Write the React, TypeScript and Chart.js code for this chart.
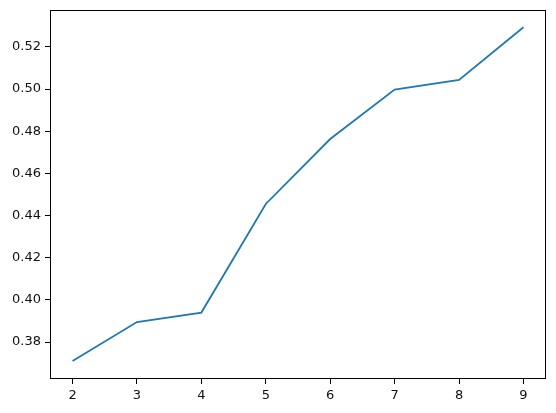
import React, { useEffect, useRef } from "react";
import { Chart, registerables } from "chart.js";

Chart.register(...registerables);

const xValues = [2, 3, 4, 5, 6, 7, 8, 9];
const yValues = [0.371, 0.3895, 0.394, 0.4455, 0.4763, 0.4998, 0.5043, 0.5293];
const xTicks = [2, 3, 4, 5, 6, 7, 8, 9];
const yTicks = [0.38, 0.4, 0.42, 0.44, 0.46, 0.48, 0.5, 0.52];

const frame = {
  id: "frame",
  afterDraw(chart: any) {
    const { ctx, chartArea: a } = chart;
    ctx.save();
    ctx.strokeStyle = "#000";
    ctx.lineWidth = 1;
    ctx.strokeRect(Math.round(a.left) + 0.5, Math.round(a.top) + 0.5, Math.round(a.right - a.left) - 1, Math.round(a.bottom - a.top) - 1);
    ctx.restore();
  },
};

export default function App() {
  const ref = useRef<HTMLCanvasElement>(null);
  useEffect(() => {
    document.body.style.margin = "0";
    const font = { family: "DejaVu Sans", size: 13 };
    const chart = new Chart(ref.current!, {
      type: "line",
      data: {
        datasets: [
          {
            data: xValues.map((x, i) => ({ x, y: yValues[i] })),
            borderColor: "#1f77b4",
            borderWidth: 1.8,
            pointRadius: 0,
            tension: 0,
            fill: false,
          },
        ],
      },
      options: {
        animation: false,
        responsive: false,
        devicePixelRatio: 1,
        layout: { padding: { top: 10, right: 10, left: 0, bottom: 0 } },
        plugins: { legend: { display: false }, tooltip: { enabled: false } },
        scales: {
          x: {
            type: "linear",
            min: 1.65,
            max: 9.35,
            afterBuildTicks: (axis: any) => {
              axis.ticks = xTicks.map((v) => ({ value: v }));
            },
            afterFit: (axis: any) => {
              axis.height = 34;
              axis.paddingLeft = 0;
              axis.paddingRight = 0;
            },
            grid: { display: true, drawOnChartArea: false, drawTicks: true, tickLength: 5, color: "#000", tickWidth: 1 },
            border: { display: false },
            ticks: { color: "#111", font, padding: 4, maxRotation: 0, autoSkip: false, callback: (v: any) => String(v) },
          },
          y: {
            type: "linear",
            min: 0.3625,
            max: 0.5375,
            afterBuildTicks: (axis: any) => {
              axis.ticks = yTicks.map((v) => ({ value: v }));
            },
            afterFit: (axis: any) => {
              axis.width = 50;
              axis.paddingTop = 0;
              axis.paddingBottom = 0;
            },
            grid: { display: true, drawOnChartArea: false, drawTicks: true, tickLength: 5, color: "#000", tickWidth: 1 },
            border: { display: false },
            ticks: { color: "#111", font, padding: 4, autoSkip: false, callback: (v: any) => Number(v).toFixed(2) },
          },
        },
      },
      plugins: [frame],
    });
    return () => chart.destroy();
  }, []);
  return (
    <div style={{ position: "absolute", left: 0, top: 0, width: 556, height: 413, background: "#fff" }}>
      <canvas ref={ref} width={556} height={413} style={{ width: 556, height: 413 }} />
    </div>
  );
}
